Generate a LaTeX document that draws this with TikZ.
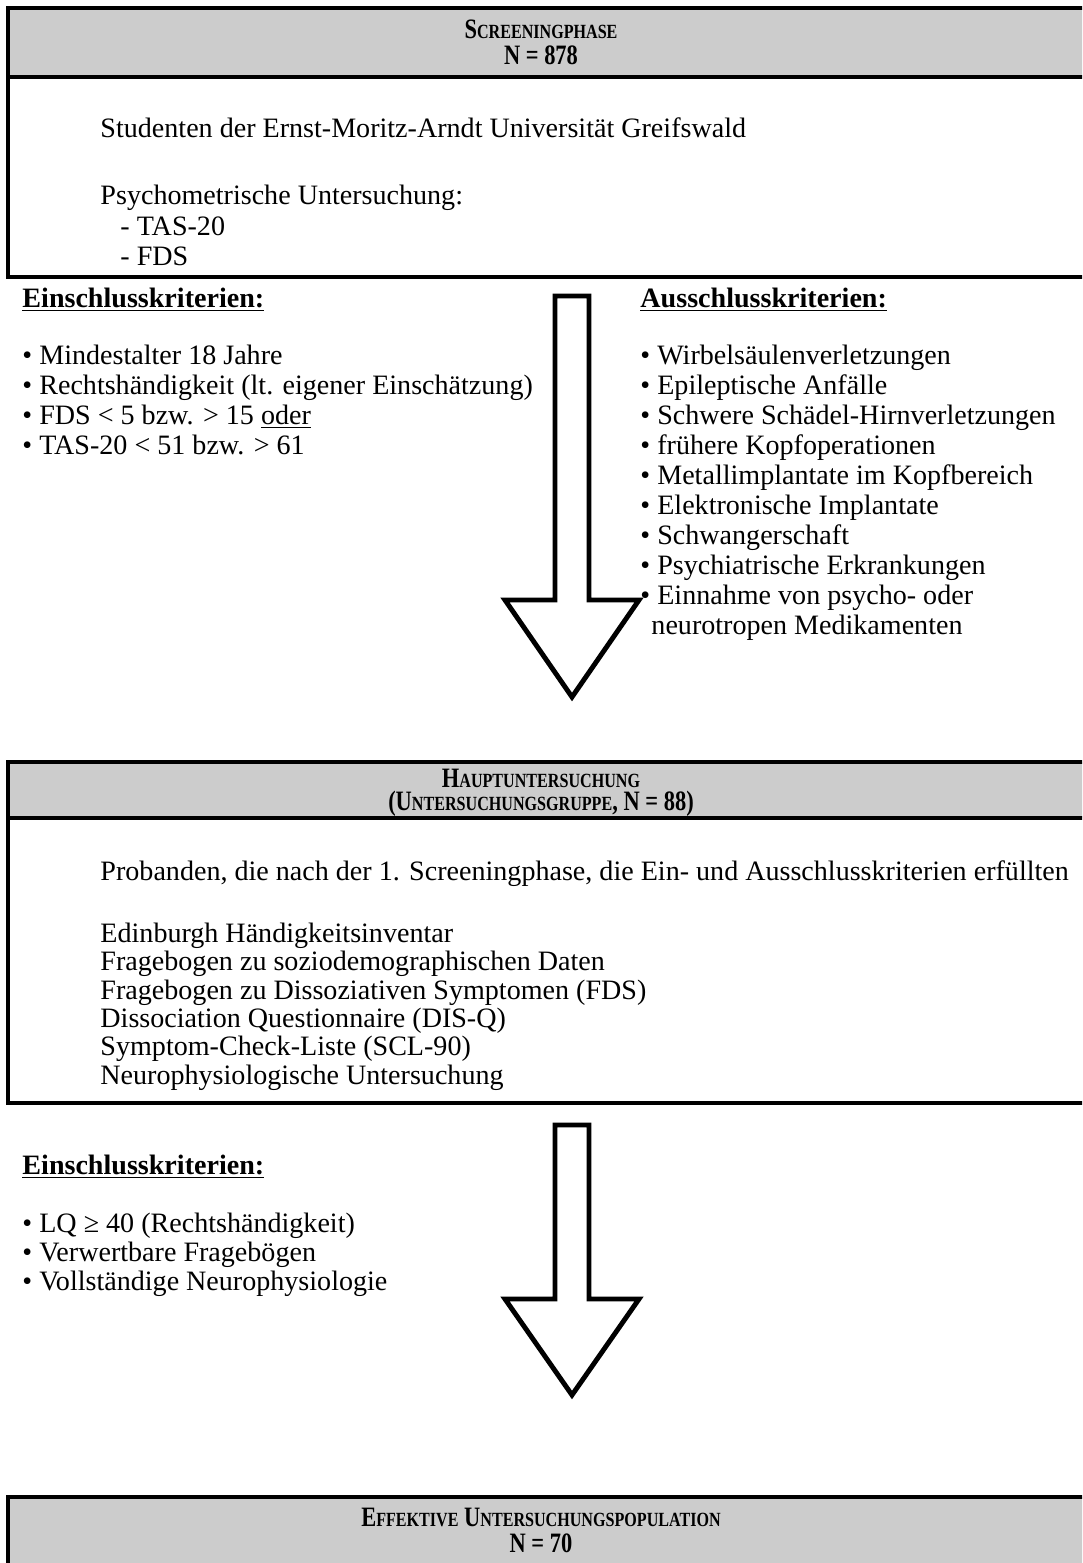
\documentclass[tikz,border=0pt]{standalone}
\usepackage{fontspec}
\setmainfont{Liberation Serif}
\newfontfamily\hdrfont[FakeStretch=0.8]{Liberation Serif}
\definecolor{hdrgray}{HTML}{CCCCCC}
\newcommand\scsmall[1]{{\fontsize{8.6}{10}\selectfont #1}}
\begin{document}
\begin{tikzpicture}[x=0.4274pt,y=-0.4274pt,
  txt/.style={anchor=base west, inner sep=0pt, font=\fontsize{12}{14}\selectfont},
  hdr/.style={anchor=base, inner sep=0pt, font=\hdrfont\fontsize{12}{14}\selectfont\bfseries},
  boxline/.style={line width=1.3pt},
  bigarrow/.style={draw, line width=2.1pt, fill=white, line join=miter}]
\useasboundingbox (0,0) rectangle (1082,1563);
\clip (0,0) rectangle (1082,1563);

% ---------- Box 1 ----------
\fill[hdrgray] (8,8) rectangle (1095,77);
\draw[boxline] (1095,8) -- (8,8) -- (8,277) -- (1095,277);
\draw[boxline] (8,77) -- (1095,77);
\node[hdr] (h1a) at (541,38) {S\scsmall{CREENINGPHASE}};
\node[hdr] (h1b) at (541,64) {N = 878};
\node[txt] (b1a) at (100,137) {Studenten der Ernst-Moritz-Arndt Universität Greifswald};
\node[txt] (b1b) at (100,204) {Psychometrische Untersuchung:};
\node[txt] (b1c) at (120,235) {- TAS-20};
\node[txt] (b1d) at (120,265) {- FDS};

% ---------- Arrow 1 ----------
\draw[bigarrow] (555,296) -- (589,296) -- (589,600) -- (639,600) -- (572,697)
  -- (505,600) -- (555,600) -- cycle;

% ---------- Criteria 1 ----------
\node[txt] (e1h) at (22,307) {\underline{\textbf{Einschlusskriterien:}}};
\node[txt] (e1a) at (22,364) {• Mindestalter 18 Jahre};
\node[txt] (e1b) at (22,394) {• Rechtshändigkeit (lt. eigener Einschätzung)};
\node[txt] (e1c) at (22,424) {• FDS < 5 bzw. > 15 \underline{oder}};
\node[txt] (e1d) at (22,454) {• TAS-20 < 51 bzw. > 61};

\node[txt] (x1h) at (640,307) {\underline{\textbf{Ausschlusskriterien:}}};
\node[txt] (x1a) at (640,364) {• Wirbelsäulenverletzungen};
\node[txt] (x1b) at (640,394) {• Epileptische Anfälle};
\node[txt] (x1c) at (640,424) {• Schwere Schädel-Hirnverletzungen};
\node[txt] (x1d) at (640,454) {• frühere Kopfoperationen};
\node[txt] (x1e) at (640,484) {• Metallimplantate im Kopfbereich};
\node[txt] (x1f) at (640,514) {• Elektronische Implantate};
\node[txt] (x1g) at (640,544) {• Schwangerschaft};
\node[txt] (x1h2) at (640,574) {• Psychiatrische Erkrankungen};
\node[txt] (x1i) at (640,604) {• Einnahme von psycho- oder};
\node[txt] (x1j) at (651,634) {neurotropen Medikamenten};

% ---------- Box 2 ----------
\fill[hdrgray] (8,762) rectangle (1095,818);
\draw[boxline] (1095,762) -- (8,762) -- (8,1103) -- (1095,1103);
\draw[boxline] (8,818) -- (1095,818);
\node[hdr] (h2a) at (541,787) {H\scsmall{AUPTUNTERSUCHUNG}};
\node[hdr] (h2b) at (541,810) {(U\scsmall{NTERSUCHUNGSGRUPPE}, N = 88)};
\node[txt] (b2a) at (100,880) {Probanden, die nach der 1. Screeningphase, die Ein- und Ausschlusskriterien erfüllten};
\node[txt] (b2b) at (100,942) {Edinburgh Händigkeitsinventar};
\node[txt] (b2c) at (100,970) {Fragebogen zu soziodemographischen Daten};
\node[txt] (b2d) at (100,999) {Fragebogen zu Dissoziativen Symptomen (FDS)};
\node[txt] (b2e) at (100,1027) {Dissociation Questionnaire (DIS-Q)};
\node[txt] (b2f) at (100,1055) {Symptom-Check-Liste (SCL-90)};
\node[txt] (b2g) at (100,1084) {Neurophysiologische Untersuchung};

% ---------- Arrow 2 ----------
\draw[bigarrow] (555,1125) -- (589,1125) -- (589,1299) -- (639,1299) -- (572,1395)
  -- (505,1299) -- (555,1299) -- cycle;

% ---------- Criteria 2 ----------
\node[txt] (e2h) at (22,1174) {\underline{\textbf{Einschlusskriterien:}}};
\node[txt] (e2a) at (22,1232) {• LQ ≥ 40 (Rechtshändigkeit)};
\node[txt] (e2b) at (22,1261) {• Verwertbare Fragebögen};
\node[txt] (e2c) at (22,1290) {• Vollständige Neurophysiologie};

% ---------- Box 3 ----------
\fill[hdrgray] (8,1497) rectangle (1095,1570);
\draw[boxline] (8,1570) -- (8,1497) -- (1095,1497);
\node[hdr] (h3a) at (541,1526) {E\scsmall{FFEKTIVE} U\scsmall{NTERSUCHUNGSPOPULATION}};
\node[hdr] (h3b) at (541,1552) {N = 70};
\end{tikzpicture}
\end{document}
